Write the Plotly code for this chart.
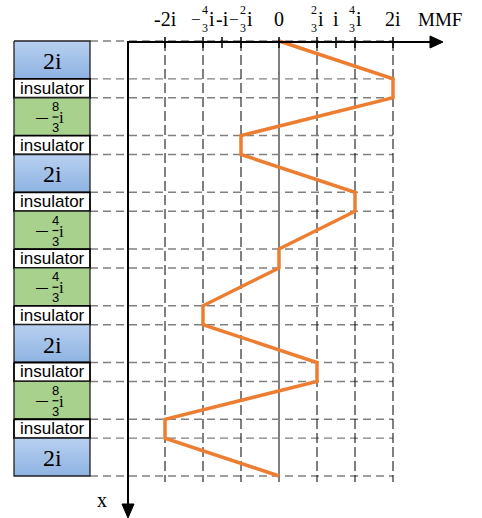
import plotly.graph_objects as go

# Layer stack of the winding, listed from top to bottom
layer_labels = ["2i", "insulator", "-8/3i", "insulator", "2i", "insulator",
                "-4/3i", "insulator", "-4/3i", "insulator", "2i", "insulator",
                "-8/3i", "insulator", "2i"]
layer_thickness = [2, 1, 2, 1, 2, 1, 2, 1, 2, 1, 2, 1, 2, 1, 2]

# MMF at every layer boundary, in units of i
mmf_values = [0, 2, 2, -2/3, -2/3, 4/3, 4/3, 0, 0, -4/3, -4/3, 2/3, 2/3, -2, -2, 0]

# MMF axis ticks
tick_values = [-2, -4/3, -1, -2/3, 0, 2/3, 1, 4/3, 2]
tick_labels = ["-2i", "-4/3i", "-i", "-2/3i", "0", "2/3i", "i", "4/3i", "2i"]
grid_values = [-2, -4/3, -2/3, 2/3, 4/3, 2]

# ---- canvas geometry (pixels) ----
W, H = 482, 518
X0_PX, PX_PER_I = 279.0, 57.0        # MMF = 0 and scale
Y0_PX, PX_PER_U = 41.0, 18.913       # top of stack and scale


def xv(p):
    return (p - X0_PX) / PX_PER_I


def yv(p):
    return (p - Y0_PX) / PX_PER_U


SERIF = "Liberation Serif"
SANS = "Liberation Sans"
ORANGE = "#ED7D31"
GREY = "#808080"

bounds = [0]
for t in layer_thickness:
    bounds.append(bounds[-1] + t)

fig = go.Figure()
shapes = []
annots = []

BX0, BX1 = xv(14), xv(90)
GRID_BOTTOM = yv(482)

# horizontal dashed lines at layer boundaries
for b in bounds:
    shapes.append(dict(type="line", xref="x", yref="y", x0=BX1, x1=2, y0=b, y1=b,
                       line=dict(color=GREY, width=1.4, dash="8px,5px"), layer="below"))

# vertical dashed grid lines
for g in grid_values:
    shapes.append(dict(type="line", xref="x", yref="y", x0=g, x1=g, y0=0, y1=GRID_BOTTOM,
                       line=dict(color="black", width=1, dash="10px,4px"), layer="below"))

# zero line
shapes.append(dict(type="line", xref="x", yref="y", x0=0, x1=0, y0=0, y1=GRID_BOTTOM,
                   line=dict(color=GREY, width=2), layer="below"))

# tick marks on the MMF axis
for v in tick_values:
    shapes.append(dict(type="line", xref="x", yref="y", x0=v, x1=v, y0=yv(37), y1=yv(48),
                       line=dict(color="black", width=1.5)))

# MMF axis and position axis with arrowheads
AX = xv(128)
shapes.append(dict(type="line", xref="x", yref="y", x0=AX, x1=xv(434), y0=yv(42), y1=yv(42),
                   line=dict(color="black", width=2)))
shapes.append(dict(type="line", xref="x", yref="y", x0=AX, x1=AX, y0=yv(41), y1=yv(508),
                   line=dict(color="black", width=2)))
shapes.append(dict(type="path", xref="x", yref="y",
                   path=f"M {xv(430)},{yv(36)} L {xv(443)},{yv(42)} L {xv(430)},{yv(48)} Z",
                   fillcolor="black", line=dict(color="black", width=1)))
shapes.append(dict(type="path", xref="x", yref="y",
                   path=f"M {xv(122)},{yv(504)} L {xv(128)},{yv(518)} L {xv(134)},{yv(504)} Z",
                   fillcolor="black", line=dict(color="black", width=1)))

# layer blocks
for i, lab in enumerate(layer_labels):
    y0, y1 = bounds[i], bounds[i + 1]
    xs = [BX0, BX1, BX1, BX0, BX0]
    ys = [y0, y0, y1, y1, y0]
    if lab == "insulator":
        fig.add_trace(go.Scatter(x=xs, y=ys, mode="lines", fill="toself",
                                 fillcolor="white", line=dict(color="black", width=1.8),
                                 hoverinfo="skip", showlegend=False))
    elif lab.startswith("-"):
        fig.add_trace(go.Scatter(x=xs, y=ys, mode="lines", fill="toself",
                                 fillcolor="#A9D18E", line=dict(color="#222222", width=1.3),
                                 hoverinfo="skip", showlegend=False))
    else:
        fig.add_trace(go.Scatter(x=xs, y=ys, mode="lines", fill="toself",
                                 fillgradient=dict(type="vertical", start=y0, stop=y1,
                                                   colorscale=[[0, "#B8D0F0"], [1, "#8EB3E2"]]),
                                 line=dict(color="#222222", width=1.3),
                                 hoverinfo="skip", showlegend=False))

# MMF distribution along the stack
fig.add_trace(go.Scatter(x=mmf_values, y=bounds, mode="lines",
                         line=dict(color=ORANGE, width=3.5),
                         hoverinfo="skip", showlegend=False))


def split_frac(label):
    neg = label.startswith("-")
    body = label[1:] if neg else label
    if "/" not in body:
        return None
    num, rest = body.split("/")
    return neg, num, rest.rstrip("i")


def note(text, x, y, size, font=SERIF, xref="x", yref="paper", xshift=0, yshift=0):
    annots.append(dict(text=text, x=x, y=y, xref=xref, yref=yref, showarrow=False,
                       xanchor="center", yanchor="middle", xshift=xshift, yshift=yshift,
                       borderpad=0, font=dict(family=font, size=size, color="black")))


# tick labels above the MMF axis
TY = 1 - 19 / H
for v, lab in zip(tick_values, tick_labels):
    f = split_frac(lab)
    if f is None:
        note(lab, v, TY, 20)
        continue
    neg, num, den = f
    if neg:
        note("\u2212", v, TY, 17, xshift=-7)
        dx, ix = 2, 8.5
    else:
        dx, ix = -3, 3.5
    note(num, v, TY, 12, xshift=dx, yshift=9)
    note(den, v, TY, 12, xshift=dx, yshift=-9)
    note("i", v, TY, 20, xshift=ix)

note("MMF", 440 / W, TY, 19, xref="paper")
note("x", 102 / W, 1 - 500 / H, 20, xref="paper")

# labels inside the layer blocks
for i, lab in enumerate(layer_labels):
    yc = (bounds[i] + bounds[i + 1]) / 2
    if lab == "insulator":
        note(lab, 52 / W, yc, 17, font=SANS, xref="paper", yref="y")
        continue
    f = split_frac(lab)
    if f is None:
        note(lab, 52 / W, yc, 24, xref="paper", yref="y", yshift=-1)
        continue
    neg, num, den = f
    if neg:
        note("\u2014", 42 / W, yc, 12, font=SANS, xref="paper", yref="y", yshift=-1)
    # fraction bar under the numerator
    shapes.append(dict(type="line", xref="x", yref="y", x0=xv(52.5), x1=xv(58.5),
                       y0=yc + 0.02, y1=yc + 0.02, line=dict(color="black", width=1.2)))
    note(num, 55.5 / W, yc, 13, font=SANS, xref="paper", yref="y", yshift=10)
    note(den, 55.5 / W, yc, 13, font=SANS, xref="paper", yref="y", yshift=-11)
    note("i", 62 / W, yc, 17, xref="paper", yref="y", yshift=-1)

fig.update_layout(
    width=W, height=H,
    margin=dict(l=0, r=0, t=0, b=0),
    paper_bgcolor="white", plot_bgcolor="white",
    xaxis=dict(range=[xv(0), xv(W)], visible=False, fixedrange=True),
    yaxis=dict(range=[yv(H), yv(0)], visible=False, fixedrange=True),
    shapes=shapes, annotations=annots,
    showlegend=False,
)

fig.write_html("out.html")
